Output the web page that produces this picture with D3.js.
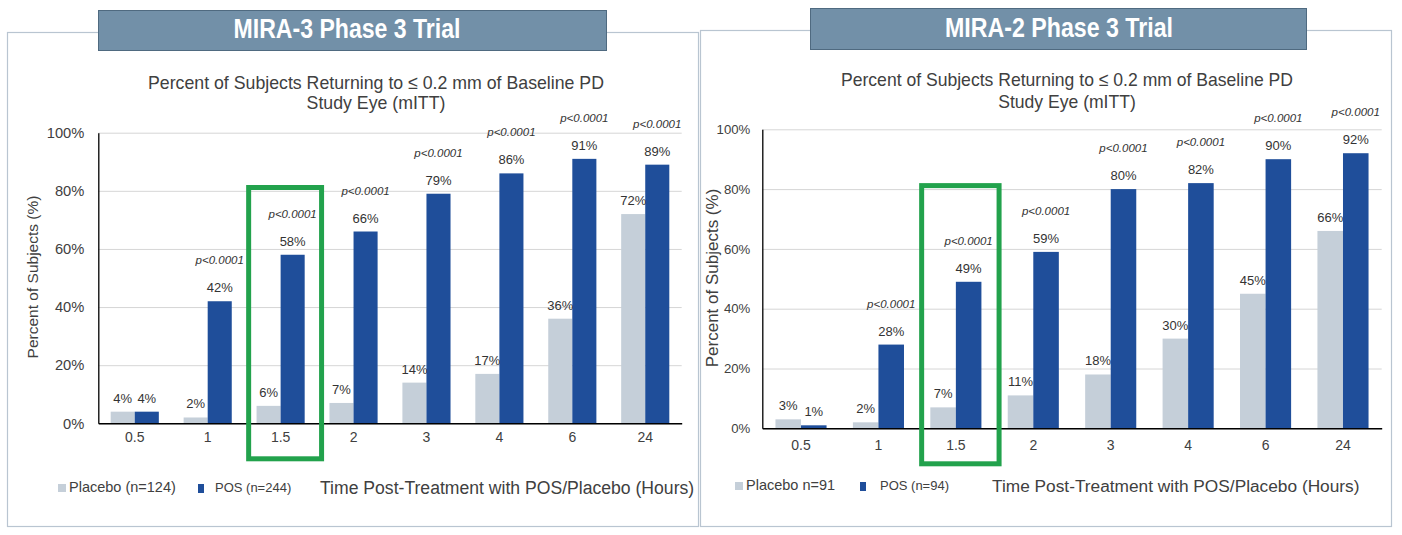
<!DOCTYPE html>
<html><head><meta charset="utf-8">
<script src="https://cdn.jsdelivr.net/npm/d3@7"></script>
<style>
body{margin:0;background:#fff;}
svg{display:block;font-family:"Liberation Sans",Arial,sans-serif;}
</style>
</head><body>
<script>
// ---------- DATA ----------
const categories = ["0.5", "1", "1.5", "2", "3", "4", "6", "24"];
const seriesNames = ["Placebo", "POS"];
const mira3Placebo = [4, 2, 6, 7, 14, 17, 36, 72];
const mira3POS = [4, 42, 58, 66, 79, 86, 91, 89];
const mira2Placebo = [3, 2, 7, 11, 18, 30, 45, 66];
const mira2POS = [1, 28, 49, 59, 80, 82, 90, 92];
const pValueLabels = ["", "p<0.0001", "p<0.0001", "p<0.0001", "p<0.0001", "p<0.0001", "p<0.0001", "p<0.0001"];
const yTickValues = [0, 20, 40, 60, 80, 100];
const highlightCategory = "1.5";
const mira3Legend = ["Placebo (n=124)", "POS (n=244)"];
const mira2Legend = ["Placebo n=91", "POS (n=94)"];
const panelTitles = ["MIRA-3 Phase 3 Trial", "MIRA-2 Phase 3 Trial"];
const chartTitleLines = ["Percent of Subjects Returning to \u2264 0.2 mm of Baseline PD", "Study Eye (mITT)"];
const yAxisTitle = "Percent of Subjects (%)";
const xAxisTitle = "Time Post-Treatment with POS/Placebo (Hours)";

// ---------- STYLE ----------
const colors = { Placebo: "#c5cfd9", POS: "#1f4e9a" };
const textColor = "#404040";
const W = 1402, H = 535;

const svg = d3.select("body").append("svg").attr("width", W).attr("height", H);

function drawPanel(placebo, pos, legend, title, L) {
  const g = svg.append("g");
  // frame
  g.append("rect").attr("x", L.frame.x).attr("y", L.frame.y).attr("width", L.frame.w).attr("height", L.frame.h)
    .attr("fill", "none").attr("stroke", "#b9c5d1").attr("stroke-width", 1.2);
  // banner
  g.append("rect").attr("x", L.banner.x).attr("y", L.banner.y).attr("width", L.banner.w).attr("height", L.banner.h)
    .attr("fill", "#7290a8").attr("stroke", "#4f6a80").attr("stroke-width", 1);
  g.append("text").attr("x", L.bannerText.x).attr("y", L.bannerText.y)
    .attr("text-anchor", "middle").attr("fill", "#fff").attr("font-weight", "bold").attr("font-size", 27)
    .attr("textLength", L.bannerText.w).attr("lengthAdjust", "spacingAndGlyphs")
    .text(title);
  // chart title
  const tl = chartTitleLines.map((t, i) => g.append("text").attr("x", L.titleX).attr("y", L.titleY[i]).attr("text-anchor", "middle")
      .attr("fill", textColor).attr("font-size", 19).text(t));
  const ratio = L.titleW / tl[0].node().getComputedTextLength();
  tl.forEach(t => t.attr("textLength", t.node().getComputedTextLength() * ratio).attr("lengthAdjust", "spacingAndGlyphs"));

  const x = d3.scaleBand().domain(categories).range([L.plot.l, L.plot.r]).padding(0);
  const groupW = x.bandwidth() * 0.66;
  const xs = d3.scaleBand().domain(seriesNames).range([0, groupW]).padding(0);
  const off = (x.bandwidth() - groupW) / 2;
  const y = d3.scaleLinear().domain([0, 100]).range([L.plot.b, L.plot.t]);

  // gridlines
  const grid = g.append("g").attr("transform", `translate(${L.plot.l},0)`)
    .call(d3.axisLeft(y).tickValues(yTickValues).tickSize(-(L.plot.r - L.plot.l)).tickFormat(""));
  grid.select(".domain").remove();
  grid.selectAll("line").attr("stroke", "#d6d6d6").attr("stroke-width", 1);

  // y axis labels
  const ya = g.append("g").attr("transform", `translate(${L.plot.l},0)`)
    .call(d3.axisLeft(y).tickValues(yTickValues).tickSize(0).tickPadding(L.tickPad).tickFormat(d => d + "%"));
  ya.select(".domain").attr("stroke", "#000").attr("stroke-width", 1.3);
  ya.selectAll("text").attr("fill", textColor).attr("font-size", L.yTickSize).attr("font-family", "Liberation Sans, Arial, sans-serif");

  const rows = categories.map((c, i) => ({ c, i, vals: [{ s: "Placebo", v: placebo[i] }, { s: "POS", v: pos[i] }] }));

  // bars
  const grp = g.selectAll(".grp").data(rows).join("g").attr("transform", d => `translate(${x(d.c) + off},0)`);
  grp.selectAll("rect").data(d => d.vals).join("rect")
    .attr("x", d => xs(d.s)).attr("width", xs.bandwidth())
    .attr("y", d => y(d.v)).attr("height", d => y(0) - y(d.v))
    .attr("fill", d => colors[d.s]);
  grp.selectAll("text.val").data(d => d.vals).join("text").attr("class", "val")
    .attr("x", d => xs(d.s) + xs.bandwidth() / 2).attr("y", d => y(d.v) - 9)
    .attr("text-anchor", "middle").attr("font-size", 13).attr("fill", "#333").text(d => d.v + "%");
  grp.append("text")
    .attr("x", xs("POS") + xs.bandwidth() / 2).attr("y", d => y(d.vals[1].v) - 9 - 28)
    .attr("text-anchor", "middle").attr("font-size", 11.5).attr("font-style", "italic").attr("fill", "#333")
    .text(d => pValueLabels[d.i]);

  // x axis
  const xa = g.append("g").attr("transform", `translate(0,${L.plot.b})`)
    .call(d3.axisBottom(x).tickSize(0).tickPadding(L.xTickPad));
  xa.select(".domain").attr("stroke", "#000").attr("stroke-width", 1.5);
  xa.selectAll("text").attr("fill", textColor).attr("font-size", 14).attr("font-family", "Liberation Sans, Arial, sans-serif");

  // y axis title
  g.append("text").attr("transform", `translate(${L.yLabel.x},${L.yLabel.y}) rotate(-90)`)
    .attr("text-anchor", "middle").attr("dy", "0.35em").attr("font-size", L.yLabel.size).attr("fill", textColor)
    .text(yAxisTitle);

  // highlight box
  const hx0 = x(highlightCategory) + 2, hx1 = x(highlightCategory) + x.bandwidth() + 7;
  g.append("rect").attr("x", hx0 + 2.5).attr("y", y(82) + 2.5)
    .attr("width", hx1 - hx0 - 5).attr("height", (L.plot.b + 38) - y(82) - 5)
    .attr("fill", "none").attr("stroke", "#22a24c").attr("stroke-width", 5);

  // legend
  g.append("rect").attr("x", L.leg.sq1).attr("y", L.leg.y - 6).attr("width", 8).attr("height", 8).attr("fill", colors.Placebo);
  g.append("text").attr("x", L.leg.t1).attr("y", L.leg.y + 2).attr("font-size", 14.5).attr("fill", textColor).text(legend[0]);
  g.append("rect").attr("x", L.leg.sq2).attr("y", L.leg.y - 6).attr("width", 6).attr("height", 9).attr("fill", colors.POS);
  g.append("text").attr("x", L.leg.t2).attr("y", L.leg.y + 2).attr("font-size", 13).attr("fill", textColor).text(legend[1]);
  g.append("text").attr("x", L.leg.xt).attr("y", L.leg.y + 4).attr("font-size", L.leg.xtSize).attr("fill", textColor).text(xAxisTitle);
}

drawPanel(mira3Placebo, mira3POS, mira3Legend, panelTitles[0], {
  frame: { x: 7.5, y: 32.5, w: 691, h: 494 },
  banner: { x: 98.5, y: 10.5, w: 508, h: 40 },
  bannerText: { x: 347, y: 38, w: 227 },
  titleX: 376, titleY: [89, 109], titleW: 456,
  plot: { l: 98.3, r: 681.7, t: 132.7, b: 423.3 },
  tickPad: 14, yTickSize: 14.7, xTickPad: 9,
  yLabel: { x: 33, y: 277, size: 15.5 },
  leg: { y: 490, sq1: 58, t1: 69, sq2: 198, t2: 215, xt: 320, xtSize: 17.6 }
});

drawPanel(mira2Placebo, mira2POS, mira2Legend, panelTitles[1], {
  frame: { x: 700.5, y: 30.5, w: 691, h: 496 },
  banner: { x: 810.5, y: 8.5, w: 496, h: 41 },
  bannerText: { x: 1059, y: 37, w: 228 },
  titleX: 1067, titleY: [86, 108], titleW: 452,
  plot: { l: 762.3, r: 1381.7, t: 129.3, b: 428.3 },
  tickPad: 12, yTickSize: 13.2, xTickPad: 12,
  yLabel: { x: 712, y: 278, size: 17 },
  leg: { y: 488, sq1: 735, t1: 746, sq2: 860, t2: 880, xt: 992, xtSize: 17.3 }
});
</script>
</body></html>
